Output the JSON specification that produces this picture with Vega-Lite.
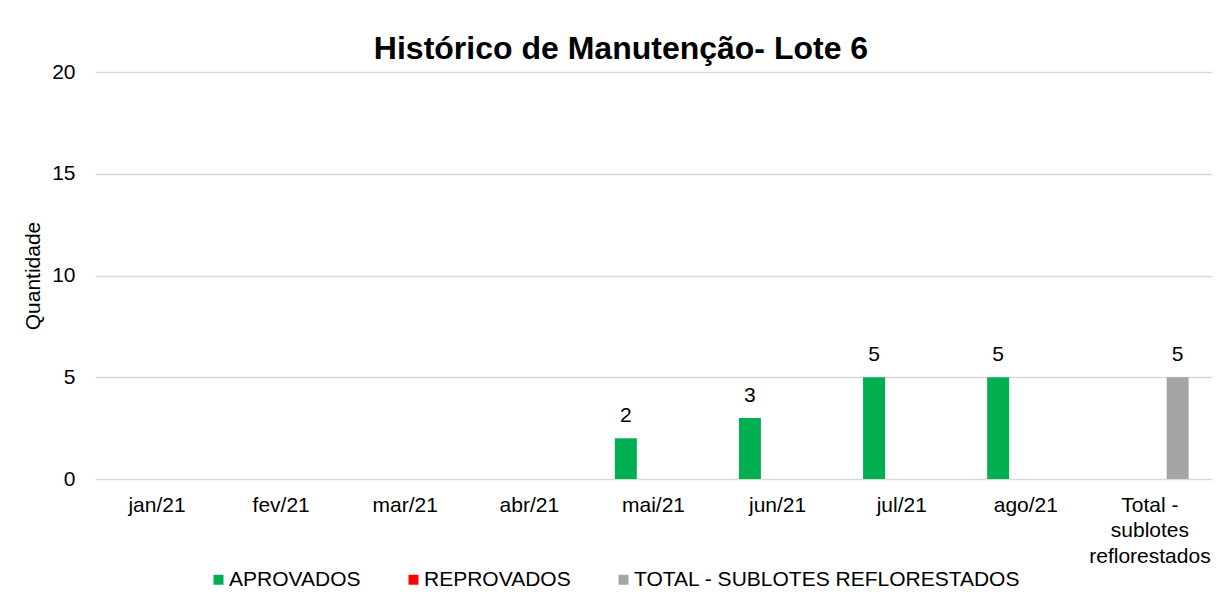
{
  "$schema": "https://vega.github.io/schema/vega-lite/v6.json",
  "width": 1117,
  "height": 407,
  "autosize": {"type": "none"},
  "padding": {"left": 95, "top": 72, "right": 7, "bottom": 131},
  "background": "white",
  "config": {
    "font": "Liberation Sans",
    "view": {"stroke": null}
  },
  "title": {
    "text": "Histórico de Manutenção- Lote 6",
    "font": "Liberation Sans",
    "fontSize": 32,
    "fontWeight": "bold",
    "color": "#000000",
    "anchor": "middle",
    "frame": "group",
    "dx": -32.5,
    "dy": 5,
    "offset": 0
  },
  "data": {
    "values": [
      {"mes": "mai/21", "serie": "APROVADOS", "valor": 2},
      {"mes": "jun/21", "serie": "APROVADOS", "valor": 3},
      {"mes": "jul/21", "serie": "APROVADOS", "valor": 5},
      {"mes": "ago/21", "serie": "APROVADOS", "valor": 5},
      {"mes": "Total - sublotes reflorestados", "serie": "TOTAL - SUBLOTES REFLORESTADOS", "valor": 5}
    ]
  },
  "encoding": {
    "x": {
      "field": "mes",
      "type": "nominal",
      "sort": null,
      "scale": {
        "domain": ["jan/21", "fev/21", "mar/21", "abr/21", "mai/21", "jun/21", "jul/21", "ago/21", "Total - sublotes reflorestados"],
        "paddingInner": 0,
        "paddingOuter": 0
      },
      "axis": {
        "title": null,
        "labelAngle": 0,
        "labelFontSize": 21,
        "labelColor": "#000000",
        "labelPadding": 15,
        "labelLineHeight": 25.5,
        "labelLimit": 300,
        "labelExpr": "datum.label == 'Total - sublotes reflorestados' ? ['Total -', 'sublotes', 'reflorestados'] : datum.label",
        "domain": false,
        "ticks": false,
        "grid": false
      }
    },
    "xOffset": {
      "field": "serie",
      "type": "nominal",
      "scale": {
        "domain": ["APROVADOS", "REPROVADOS", "TOTAL - SUBLOTES REFLORESTADOS"],
        "paddingInner": 0.206,
        "paddingOuter": 0.845
      }
    },
    "y": {
      "field": "valor",
      "type": "quantitative",
      "scale": {"domain": [0, 20], "nice": false},
      "axis": {
        "title": "Quantidade",
        "titleFontSize": 21,
        "titleFontWeight": "normal",
        "titleColor": "#000000",
        "titleX": -55.5,
        "titleY": 203.5,
        "titleBaseline": "alphabetic",
        "values": [0, 5, 10, 15, 20],
        "labelFontSize": 21,
        "labelColor": "#000000",
        "labelPadding": 20,
        "domain": false,
        "ticks": false,
        "grid": true,
        "gridColor": "#D9D9D9",
        "gridWidth": 1.5
      }
    }
  },
  "layer": [
    {
      "mark": {"type": "bar"},
      "encoding": {
        "color": {
          "field": "serie",
          "type": "nominal",
          "scale": {
            "domain": ["APROVADOS", "REPROVADOS", "TOTAL - SUBLOTES REFLORESTADOS"],
            "range": ["#00B050", "#FF0000", "#A5A5A5"]
          },
          "legend": {
            "title": null,
            "orient": "none",
            "direction": "horizontal",
            "legendX": 113,
            "legendY": 497,
            "padding": 0,
            "symbolType": "square",
            "symbolSize": 100,
            "symbolStrokeWidth": 0,
            "labelFontSize": 21,
            "labelColor": "#000000",
            "labelOffset": 0,
            "columnPadding": 42,
            "labelLimit": 500
          }
        }
      }
    },
    {
      "mark": {"type": "text", "baseline": "alphabetic", "dy": -16, "fontSize": 21, "color": "#000000"},
      "encoding": {
        "text": {"field": "valor", "type": "quantitative"}
      }
    }
  ]
}
